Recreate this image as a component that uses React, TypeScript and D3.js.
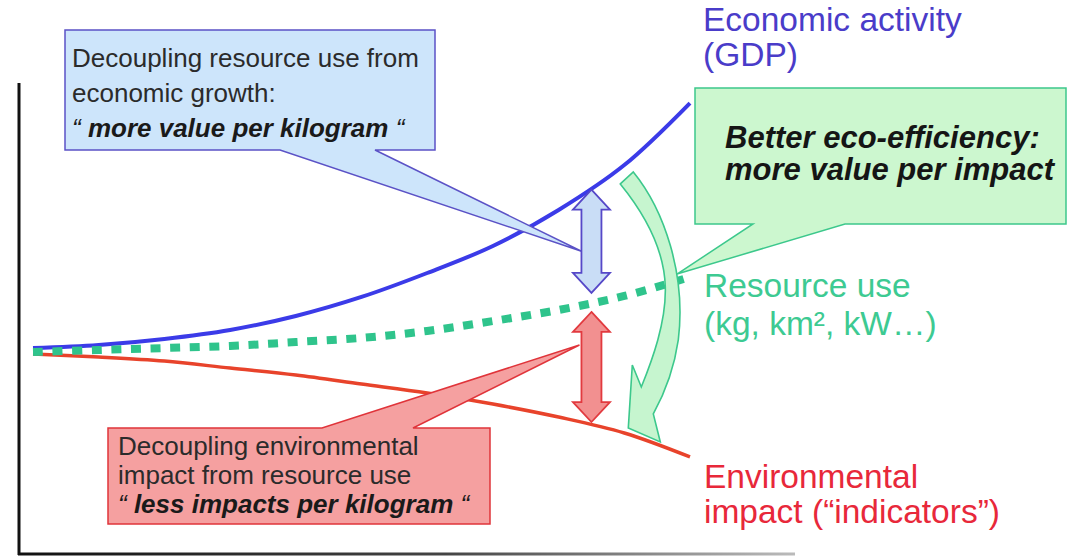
import React from "react";
import * as d3 from "d3";

// ---- data (index values) ----
const periods = [0, 1, 2, 3, 4, 5, 6, 7, 8, 9, 10];
const gdp = [101.4, 103.6, 107.9, 114.3, 124.3, 137.9, 155.0, 174.3, 200.0, 232.1, 276.4];
const resourceUse = [98.6, 100.0, 101.4, 102.9, 105.7, 108.6, 113.6, 120.7, 128.6, 138.6, 152.1];
const envImpact = [97.1, 95.0, 92.1, 87.1, 82.1, 75.7, 69.3, 61.4, 52.1, 40.7, 23.6];

const seriesLabels = [
  { key: "gdp", lines: ["Economic activity", "(GDP)"], color: "#4a3cc9" },
  { key: "res", lines: ["Resource use", "(kg, km², kW…)"], color: "#3dca92" },
  { key: "env", lines: ["Environmental", "impact (“indicators”)"], color: "#e8283a" },
];

const blueNote = ["Decoupling resource use from", "economic growth:", "more value per kilogram"];
const redNote = ["Decoupling environmental", "impact from resource use", "less impacts per kilogram"];
const greenNote = ["Better eco-efficiency:", "more value per impact"];

const W = 1069;
const H = 557;
const FONT = "'Liberation Sans', Arial, Helvetica, sans-serif";

function valueAt(arr: number[], t: number) {
  const i = Math.floor(t);
  const f = t - i;
  return arr[i] + (arr[Math.min(i + 1, arr.length - 1)] - arr[i]) * f;
}

function doubleArrow(cx: number, yTop: number, yBot: number) {
  const hh = 18.5, sh = 10, hd = 20;
  const p = [
    [cx, yTop], [cx + hh, yTop + hd], [cx + sh, yTop + hd], [cx + sh, yBot - hd],
    [cx + hh, yBot - hd], [cx, yBot], [cx - hh, yBot - hd], [cx - sh, yBot - hd],
    [cx - sh, yTop + hd], [cx - hh, yTop + hd],
  ];
  return "M" + p.map((q) => q.join(",")).join("L") + "Z";
}

function callout(x0: number, y0: number, x1: number, y1: number, side: "top" | "bottom", b0: number, b1: number, tip: number[]) {
  if (side === "bottom") {
    return `M${x0},${y0}L${x1},${y0}L${x1},${y1}L${b1},${y1}L${tip[0]},${tip[1]}L${b0},${y1}L${x0},${y1}Z`;
  }
  return `M${x0},${y0}L${b0},${y0}L${tip[0]},${tip[1]}L${b1},${y0}L${x1},${y0}L${x1},${y1}L${x0},${y1}Z`;
}

export default function App() {
  const x = d3.scaleLinear().domain([0, 10]).range([33, 690]);
  const y = d3.scaleLinear().domain([0, 300]).range([490, 70]);

  const line = d3
    .line<number>()
    .x((_, i) => x(periods[i]))
    .y((d) => y(d))
    .curve(d3.curveCatmullRom.alpha(0.5));

  // double arrows between curves
  const tA = 8.5;
  const cx = x(tA);
  const yG = y(valueAt(gdp, tA));
  const yR = y(valueAt(resourceUse, tA));
  const yE = y(valueAt(envImpact, tA));
  const blueTop = yG + 2, blueBot = yR - 10;
  const redTop = yR + 9, redBot = yE - 3;

  // green curved arrow, anchored to the resource-use curve
  const ax = x(9);
  const ay = y(resourceUse[9]);
  const rel = (dx: number, dy: number) => `${ax + dx},${ay + dy}`;
  const greenArrow =
    `M${rel(-4, -112)}L${rel(9, -124)}` +
    `C${rel(40, -86)} ${rel(62, -21)} ${rel(54, 44)}` +
    `C${rel(50, 72)} ${rel(40, 98)} ${rel(29, 118)}` +
    `L${rel(36, 146)}L${rel(4, 132)}L${rel(8, 69)}L${rel(17, 91)}` +
    `C${rel(28, 64)} ${rel(42, 26)} ${rel(41, -9)}` +
    `C${rel(40, -46)} ${rel(22, -80)} ${rel(-4, -112)}Z`;

  const rEnd = [x(10), y(resourceUse[10])];

  const blueCallout = callout(65, 30, 435, 150, "bottom", 280, 375, [cx - 10, (blueTop + blueBot) / 2 + 10]);
  const redCallout = callout(108, 428, 490, 524, "top", 322, 413, [cx - 12, redTop + 33]);
  const greenCallout = callout(695, 88, 1066, 224, "bottom", 753, 845, [rEnd[0] - 13, rEnd[1] - 3]);

  const labelPos = [
    { x: 703, y: 31, dy: 35 },
    { x: 704, y: 297, dy: 38 },
    { x: 704, y: 488, dy: 35 },
  ];

  return (
    <svg
      width={W}
      height={H}
      viewBox={`0 0 ${W} ${H}`}
      style={{ position: "absolute", left: 0, top: 0, background: "#fff" }}
      fontFamily={FONT}
    >
      <defs>
        <linearGradient id="axisGrad" gradientUnits="userSpaceOnUse" x1={18} x2={795} y1={0} y2={0}>
          <stop offset="0" stopColor="#111" />
          <stop offset="0.55" stopColor="#444" />
          <stop offset="1" stopColor="#bbb" />
        </linearGradient>
      </defs>

      {/* axes */}
      <line x1={19} y1={83} x2={19} y2={555} stroke="#111" strokeWidth={3} />
      <line x1={18} y1={554} x2={795} y2={554} stroke="url(#axisGrad)" strokeWidth={3} />

      {/* series */}
      <path d={line(gdp) || ""} fill="none" stroke="#3b3be8" strokeWidth={4} />
      <path d={line(envImpact) || ""} fill="none" stroke="#e8432b" strokeWidth={3.5} />
      <path
        d={line(resourceUse) || ""}
        fill="none"
        stroke="#2fc48c"
        strokeWidth={8}
        strokeDasharray="10 9.6"
      />

      {/* blue callout */}
      <path d={blueCallout} fill="#cde5fb" stroke="#5b52c6" strokeWidth={1.5} />
      <text x={72} y={67} fontSize={26} fill="#2b2b2b">{blueNote[0]}</text>
      <text x={72} y={102} fontSize={26} fill="#2b2b2b">{blueNote[1]}</text>
      <text x={72} y={137} fontSize={26} fill="#1a1a1a">
        <tspan fontStyle="italic">“ </tspan>
        <tspan fontWeight="bold" fontStyle="italic">{blueNote[2]}</tspan>
        <tspan fontStyle="italic"> “</tspan>
      </text>

      {/* red callout */}
      <path d={redCallout} fill="#f5a0a0" stroke="#e0343a" strokeWidth={1.5} />
      <text x={118} y={455} fontSize={26} fill="#2b2b2b">{redNote[0]}</text>
      <text x={118} y={484} fontSize={26} fill="#2b2b2b">{redNote[1]}</text>
      <text x={118} y={513} fontSize={26} fill="#1a1a1a">
        <tspan fontStyle="italic">“ </tspan>
        <tspan fontWeight="bold" fontStyle="italic">{redNote[2]}</tspan>
        <tspan fontStyle="italic"> “</tspan>
      </text>

      {/* green callout */}
      <path d={greenCallout} fill="#ccf7cf" stroke="#3cc88c" strokeWidth={1.5} />
      {greenNote.map((t, i) => (
        <text key={t} x={725} y={148 + i * 32} fontSize={31} fontWeight="bold" fontStyle="italic" fill="#151515">
          {t}
        </text>
      ))}

      {/* double arrows */}
      <path d={doubleArrow(cx, blueTop, blueBot)} fill="#c9ddf6" stroke="#5648c8" strokeWidth={1.8} />
      <path d={doubleArrow(cx, redTop, redBot)} fill="#f29090" stroke="#e23a3f" strokeWidth={1.8} />

      {/* green curved arrow */}
      <path d={greenArrow} fill="#c6f5cf" stroke="#3cc88c" strokeWidth={1.6} />

      {/* series labels */}
      {seriesLabels.map((s, i) => (
        <g key={s.key}>
          {s.lines.map((t, j) => (
            <text key={t} x={labelPos[i].x} y={labelPos[i].y + j * labelPos[i].dy} fontSize={33.5} fill={s.color}>
              {t}
            </text>
          ))}
        </g>
      ))}
    </svg>
  );
}
